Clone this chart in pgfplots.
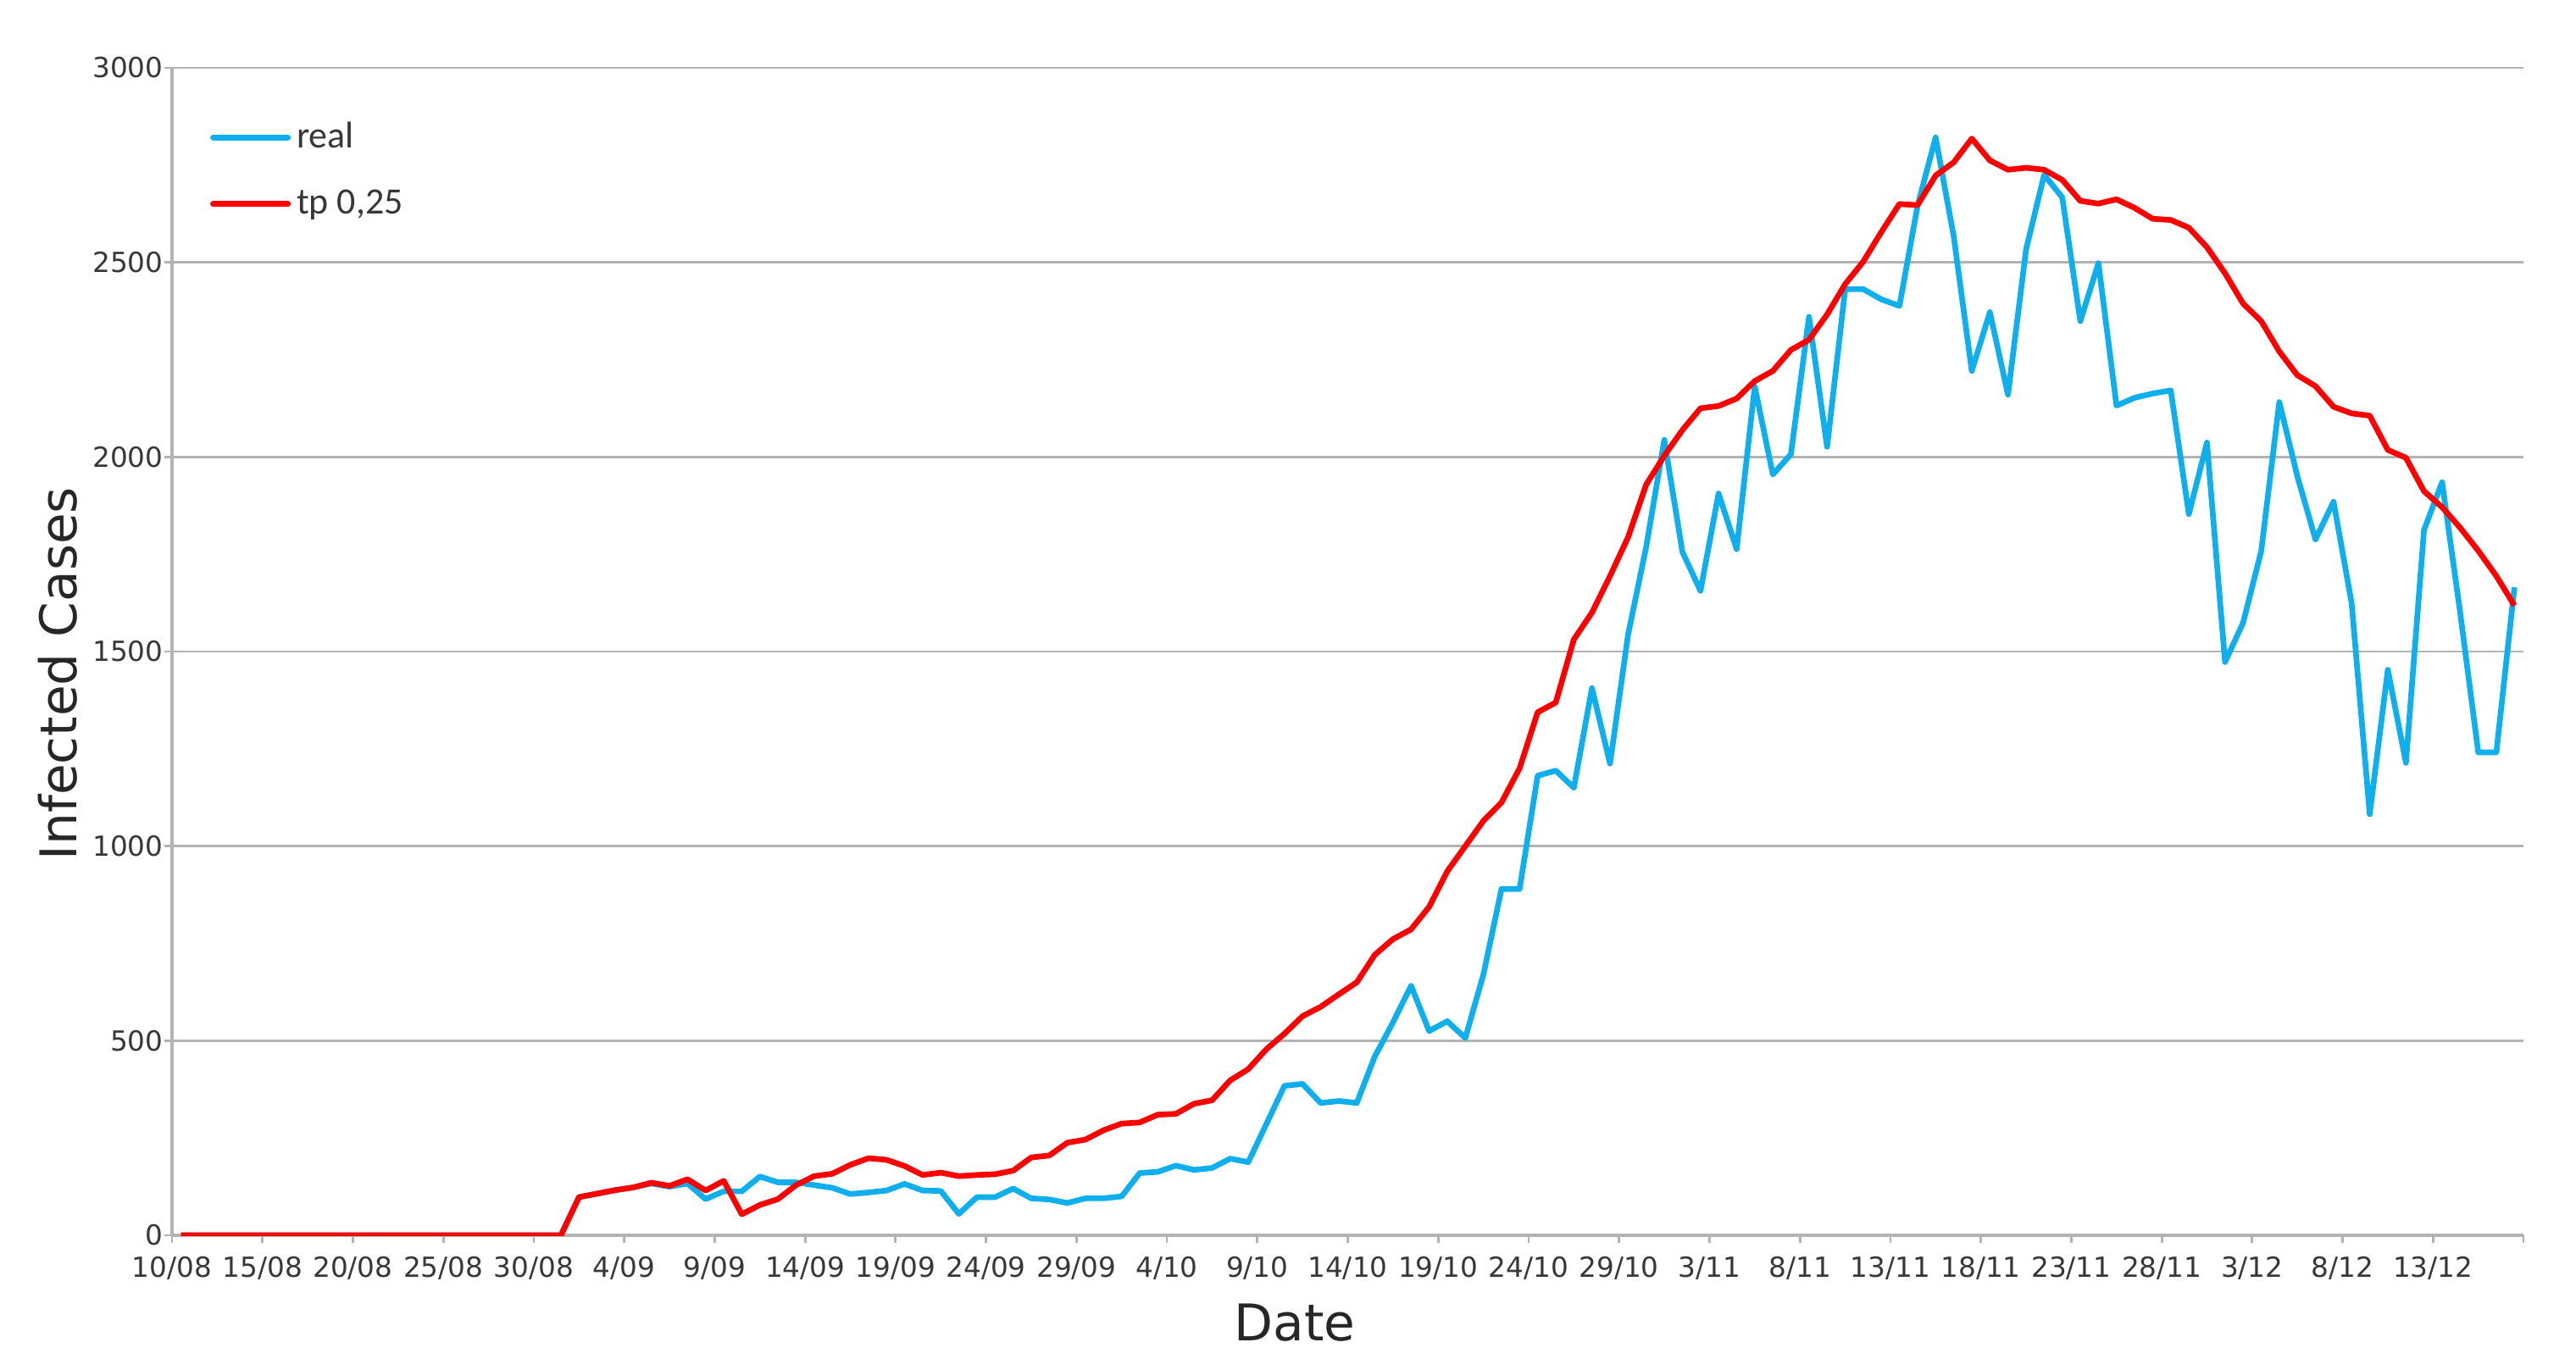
\documentclass[border=0pt]{standalone}
\usepackage{fontspec}
\setmainfont{DejaVu Sans}
\newfontfamily\legfont{Carlito}
\usepackage{pgfplots}
\usepackage{pgfplotstable}
\pgfplotsset{compat=1.18}
\definecolor{realblue}{RGB}{15,174,237}
\definecolor{tpred}{RGB}{255,0,0}
\definecolor{gridgray}{RGB}{179,179,179}
\definecolor{labgray}{RGB}{55,55,55}

\pgfplotstableread{
x real tp
0.5 0 0
1.5 0 0
2.5 0 0
3.5 0 0
4.5 0 0
5.5 0 0
6.5 0 0
7.5 0 0
8.5 0 0
9.5 0 0
10.5 0 0
11.5 0 0
12.5 0 0
13.5 0 0
14.5 0 0
15.5 0 0
16.5 0 0
17.5 0 0
18.5 0 0
19.5 0 0
20.5 0 0
21.5 0 0
22.5 98 98
23.5 107 107
24.5 116 116
25.5 123 123
26.5 133 135
27.5 125 127
28.5 133 144
29.5 93 115
30.5 113 140
31.5 113 54
32.5 151 78
33.5 136 93
34.5 136 129
35.5 129 152
36.5 122 158
37.5 106 181
38.5 110 198
39.5 115 194
40.5 132 178
41.5 115 155
42.5 114 161
43.5 55 152
44.5 98 155
45.5 98 157
46.5 120 166
47.5 95 200
48.5 92 205
49.5 83 238
50.5 95 246
51.5 95 270
52.5 100 287
53.5 160 290
54.5 163 310
55.5 179 312
56.5 168 338
57.5 173 347
58.5 197 398
59.5 188 427
60.5 286 478
61.5 384 518
62.5 389 563
63.5 340 587
64.5 345 619
65.5 340 650
66.5 460 721
67.5 547 761
68.5 641 786
69.5 525 844
70.5 550 935
71.5 507 1000
72.5 670 1065
73.5 890 1112
74.5 890 1200
75.5 1181 1344
76.5 1194 1369
77.5 1150 1531
78.5 1406 1600
79.5 1212 1694
80.5 1544 1794
81.5 1769 1929
82.5 2044 2003
83.5 1756 2069
84.5 1656 2125
85.5 1906 2131
86.5 1763 2150
87.5 2181 2195
88.5 1955 2221
89.5 2007 2275
90.5 2360 2301
91.5 2026 2366
92.5 2431 2444
93.5 2431 2502
94.5 2405 2578
95.5 2388 2650
96.5 2645 2647
97.5 2821 2723
98.5 2567 2757
99.5 2221 2818
100.5 2372 2762
101.5 2160 2738
102.5 2533 2743
103.5 2725 2738
104.5 2667 2712
105.5 2349 2658
106.5 2498 2651
107.5 2132 2662
108.5 2152 2640
109.5 2163 2612
110.5 2171 2609
111.5 1853 2589
112.5 2037 2539
113.5 1473 2472
114.5 1574 2394
115.5 1758 2349
116.5 2141 2271
117.5 1950 2210
118.5 1788 2182
119.5 1885 2129
120.5 1624 2112
121.5 1082 2106
122.5 1453 2018
123.5 1214 1998
124.5 1812 1912
125.5 1935 1871
126.5 1600 1818
127.5 1241 1759
128.5 1241 1694
129.5 1665 1618
}\datatable

\begin{document}
\begin{tikzpicture}
\path[use as bounding box] (0,0) rectangle (30.4cm,16.16cm);
\begin{axis}[
  at={(2.03cm,1.58cm)}, anchor=south west,
  scale only axis, width=27.75cm, height=13.78cm,
  xmin=0, xmax=130, ymin=0, ymax=3000,
  axis x line*=bottom, axis y line*=left,
  axis line style={gridgray, line width=0.9pt},
  ymajorgrids, grid style={gridgray, line width=0.8pt},
  xtick={0,5,...,130},
  xticklabels={10/08,15/08,20/08,25/08,30/08,4/09,9/09,14/09,19/09,24/09,29/09,4/10,9/10,14/10,19/10,24/10,29/10,3/11,8/11,13/11,18/11,23/11,28/11,3/12,8/12,13/12,{}},
  ytick={0,500,...,3000},
  tick align=outside, major tick length=0.09cm,
  tick style={gridgray, line width=0.8pt},
  /pgf/number format/assume math mode=true,
  yticklabel style={/pgf/number format/1000 sep={}, xshift=0.11cm},
  ticklabel style={font=\fontsize{9.3}{11}\selectfont, text=labgray},
  xticklabel style={yshift=-0.04cm},
  xlabel={Date}, ylabel={Infected Cases},
  xlabel style={at={(axis description cs:0.4775,-0.0752)}, anchor=center, font=\fontsize{17}{20}\selectfont, text=black!85},
  ylabel style={at={(axis description cs:-0.0487,0.481)}, anchor=center, font=\fontsize{17}{20}\selectfont, text=black!85},
  legend style={draw=none, fill=none, at={(axis description cs:0.016,0.959)}, anchor=north west,
    font=\legfont\fontsize{12.5}{14}\selectfont, text=labgray, row sep=0.3cm, inner sep=0pt},
  legend cell align=left,
  legend image code/.code={\draw[#1, line width=2pt, line cap=round] (0cm,0cm) -- (0.88cm,0cm);},
]
\addplot[realblue, line width=1.9pt, line join=round] table[x=x, y=real] {\datatable};
\addlegendentry{real}
\addplot[tpred, line width=1.9pt, line join=round] table[x=x, y=tp] {\datatable};
\addlegendentry{tp 0,25}
\end{axis}
\end{tikzpicture}
\end{document}
